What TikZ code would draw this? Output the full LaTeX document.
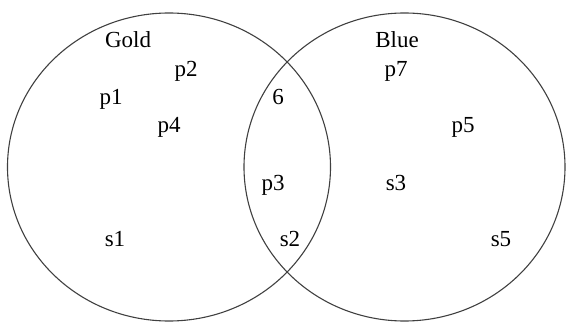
\documentclass[tikz,border=0pt]{standalone}
\usepackage{fontspec}
\setmainfont{Liberation Serif}
\usetikzlibrary{shapes.geometric}
\begin{document}
\begin{tikzpicture}[x=1pt,y=1pt,
  setring/.style={draw=black!75, line width=1.1pt, ellipse, inner sep=0pt, outer sep=0pt},
  member/.style={anchor=base, inner sep=0pt, font=\fontsize{23}{26}\selectfont, text=black}]
\useasboundingbox (0,0) rectangle (566,322);
\node[setring, minimum width=323pt, minimum height=308pt] (gold) at (169,155) {};
\node[setring, minimum width=321pt, minimum height=308pt] (blue) at (404.5,155) {};
\node[member] (lgold) at (128,274) {Gold};
\node[member] (lblue) at (397,274) {Blue};
\node[member] (p2) at (186,245) {p2};
\node[member] (p1) at (111,217) {p1};
\node[member] (p4) at (169,189) {p4};
\node[member] (s1) at (115,75) {s1};
\node[member] (six) at (278,217) {6};
\node[member] (p3) at (273,131.5) {p3};
\node[member] (s2) at (290,75) {s2};
\node[member] (p7) at (396,245) {p7};
\node[member] (p5) at (463,189) {p5};
\node[member] (s3) at (396,131.5) {s3};
\node[member] (s5) at (501,75) {s5};
\end{tikzpicture}
\end{document}
